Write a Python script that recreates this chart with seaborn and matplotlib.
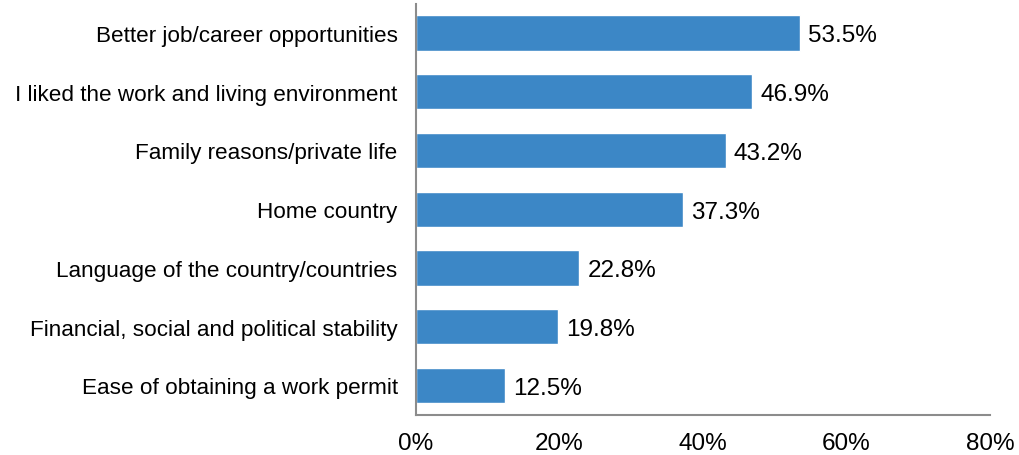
import matplotlib
matplotlib.use("Agg")
import matplotlib.pyplot as plt
import seaborn as sns
import pandas as pd

reasons = [
    "Better job/career opportunities",
    "I liked the work and living environment",
    "Family reasons/private life",
    "Home country",
    "Language of the country/countries",
    "Financial, social and political stability",
    "Ease of obtaining a work permit",
]
shares = [53.5, 46.9, 43.2, 37.3, 22.8, 19.8, 12.5]
x_ticks = [0, 20, 40, 60, 80]
x_tick_labels = ["0%", "20%", "40%", "60%", "80%"]

sns.set_theme(style="white")
plt.rcParams["font.family"] = ["Liberation Sans", "DejaVu Sans"]

df = pd.DataFrame({"reason": reasons, "share": shares})

fig = plt.figure(figsize=(10.19, 4.56), dpi=100)
ax = fig.add_axes([0.408, 0.088, 0.5635, 0.902])

sns.barplot(data=df, x="share", y="reason", color="#3C87C6",
            width=0.6, saturation=1, ax=ax)

for bar, v in zip(ax.patches, shares):
    ax.text(bar.get_width() + 1.1, bar.get_y() + bar.get_height() / 2,
            f"{v:.1f}%", va="center_baseline", ha="left", fontsize=17.5,
            color="#000000")

ax.set_xlim(0, 80)
ax.set_xticks(x_ticks)
ax.set_xticklabels(x_tick_labels, fontsize=17.5, color="#000000")
ax.tick_params(axis="y", labelsize=16.2, colors="#000000", pad=13, length=0)
ax.tick_params(axis="x", pad=12, length=0)
ax.set_xlabel("")
ax.set_ylabel("")

for side in ["top", "right"]:
    ax.spines[side].set_visible(False)
for side in ["left", "bottom"]:
    ax.spines[side].set_color("#8C8C8C")
    ax.spines[side].set_linewidth(1.5)

fig.savefig("out.png", dpi=100)
